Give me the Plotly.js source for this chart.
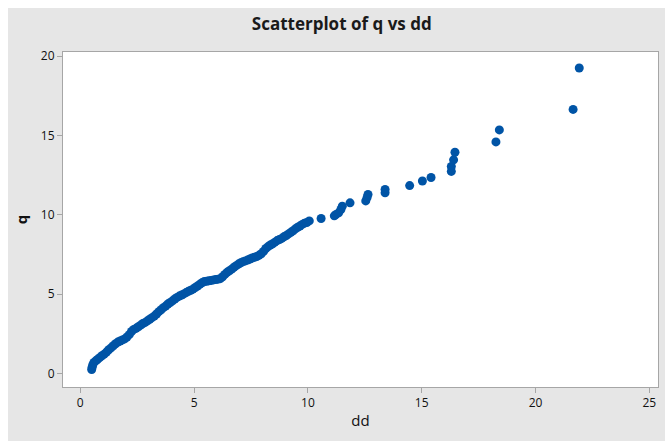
<!DOCTYPE html>
<html>
<head>
<meta charset="utf-8">
<script src="https://cdn.plot.ly/plotly-3.0.1.min.js"></script>
<style>
html,body{margin:0;padding:0;background:#ffffff;}
#chart{position:absolute;left:8px;top:8px;width:657px;height:433px;}
</style>
</head>
<body>
<div id="chart"></div>
<script>
// dd values (x)
const dd = [
0.50,0.52,0.55,0.60,0.68,0.75,0.85,0.95,1.05,1.15,1.25,1.35,1.45,1.55,1.65,1.75,1.85,1.95,
2.05,2.15,2.25,2.35,2.45,2.55,2.65,2.75,2.85,2.95,3.05,3.15,3.25,3.35,3.45,3.55,3.65,3.75,3.85,3.95,
4.05,4.15,4.25,4.35,4.45,4.55,4.65,4.75,4.85,4.95,5.05,5.15,5.25,5.35,5.45,5.55,5.65,5.75,5.85,5.95,
6.05,6.15,6.25,6.35,6.45,6.55,6.65,6.75,6.85,6.95,7.05,7.15,7.25,7.35,7.45,7.55,7.65,7.75,7.85,7.95,
8.05,8.15,8.25,8.35,8.45,8.55,8.65,8.75,8.85,8.95,9.05,9.15,9.25,9.35,9.45,9.55,9.65,9.75,9.85,9.95,
10.06,10.58,11.16,11.23,11.35,11.45,11.51,11.85,12.54,12.60,12.64,13.39,13.39,14.47,15.03,15.41,
16.30,16.30,16.40,16.46,18.26,18.41,21.65,21.92
];
// q values (y)
const q = [
0.25,0.40,0.55,0.70,0.80,0.88,1.00,1.12,1.22,1.35,1.50,1.62,1.75,1.88,1.98,2.05,2.12,2.18,
2.30,2.45,2.65,2.78,2.85,2.95,3.05,3.15,3.22,3.32,3.42,3.52,3.62,3.75,3.90,4.02,4.15,4.25,4.38,4.48,
4.58,4.70,4.80,4.88,4.95,5.02,5.10,5.18,5.25,5.32,5.42,5.52,5.62,5.72,5.80,5.82,5.85,5.87,5.90,5.92,
5.95,5.98,6.10,6.25,6.38,6.48,6.58,6.70,6.80,6.90,6.98,7.05,7.10,7.15,7.22,7.28,7.33,7.38,7.45,7.55,
7.70,7.88,8.00,8.10,8.18,8.28,8.38,8.45,8.52,8.62,8.70,8.80,8.90,9.00,9.12,9.22,9.30,9.40,9.48,9.52,
9.62,9.77,9.94,10.02,10.13,10.34,10.55,10.76,10.88,11.10,11.29,11.39,11.60,11.85,12.14,12.36,
12.74,13.05,13.47,13.95,14.60,15.36,16.65,19.26
];
const xTicks = [0,5,10,15,20,25];
const yTicks = [0,5,10,15,20];

const fontFam = '"Open Sans", "Noto Sans", sans-serif';
const trace = {
  x: dd, y: q, type: 'scatter', mode: 'markers',
  marker: {color: '#0054A6', size: 9, line: {width: 0}},
  hoverinfo: 'skip'
};
const axisCommon = {
  showgrid: false, zeroline: false,
  showline: true, mirror: true, linecolor: '#a6a6a6', linewidth: 1,
  ticks: 'outside', ticklen: 5, tickcolor: '#a6a6a6', tickwidth: 1,
  tickfont: {family: fontFam, size: 12, color: '#111111'},
  tickmode: 'array'
};
const layout = {
  width: 657, height: 433,
  paper_bgcolor: '#e6e6e6', plot_bgcolor: '#ffffff',
  margin: {l: 55, r: 7, t: 44, b: 54},
  showlegend: false,
  title: {text: '<b>Scatterplot of q vs dd</b>', font: {family: fontFam, size: 17, color: '#1a1a1a'},
          xref: 'container', yref: 'container', x: 0.508, xanchor: 'center', y: 0.963, yanchor: 'middle'},
  xaxis: Object.assign({}, axisCommon, {
    range: [-0.76, 25.38], tickvals: xTicks, ticktext: xTicks.map(String),
    title: {text: 'dd', font: {family: fontFam, size: 15, color: '#111111'}, standoff: 5}
  }),
  yaxis: Object.assign({}, axisCommon, {
    range: [-0.85, 20.27], tickvals: yTicks, ticktext: yTicks.map(String),
    title: {text: '<b>q</b>', font: {family: fontFam, size: 15, color: '#111111'}, standoff: 9}
  })
};
Plotly.newPlot('chart', [trace], layout, {displayModeBar: false, staticPlot: true});
</script>
</body>
</html>
